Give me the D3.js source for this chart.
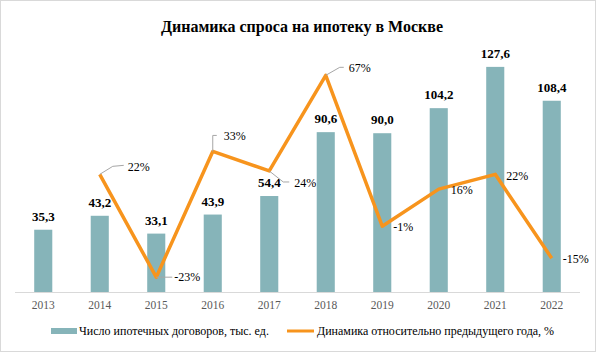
<!DOCTYPE html>
<html>
<head>
<meta charset="utf-8">
<script src="https://cdn.jsdelivr.net/npm/d3@7"></script>
<style>
  body { margin: 0; background: #fff; }
</style>
</head>
<body>
<div id="chart"></div>
<script>
let years = ['2013', '2014', '2015', '2016', '2017', '2018', '2019', '2020', '2021', '2022']
let contracts = [35.3, 43.2, 33.1, 43.9, 54.4, 90.6, 90.0, 104.2, 127.6, 108.4]
let growth = [null, 22.4, -23.4, 32.6, 23.9, 66.5, -0.7, 15.8, 22.4, -15.0]

let barName = 'Число ипотечных договоров, тыс. ед.'
let lineName = 'Динамика относительно предыдущего года, %'
let title = 'Динамика спроса на ипотеку в Москве'

// label offsets for the % labels, [dx, dy] from the point; lead = draw a leader line
let labelPlace = [
  null,
  { dx: 28, dy: -8, lead: [[13, -8], [24, -9]] },
  { dx: 18, dy: 0, lead: [[5, 0], [16, 0]] },
  { dx: 11, dy: -16, lead: [[0, -16], [4, -16]] },
  { dx: 25, dy: 12, lead: [[14, 11], [20, 11]] },
  { dx: 23, dy: -8, lead: [[14, -8], [18, -8]] },
  { dx: 11, dy: 1 },
  { dx: 12, dy: 1 },
  { dx: 11, dy: 1 },
  { dx: 11, dy: 0 }
]

let width = 596
let height = 352
let serif = "'Liberation Serif', 'Times New Roman', Times, serif"

let svg = d3
  .select('#chart')
  .append('svg')
  .attr('width', width)
  .attr('height', height)
  .attr('font-family', serif)

svg
  .append('rect')
  .attr('x', 0.5)
  .attr('y', 0.5)
  .attr('width', width - 1)
  .attr('height', height - 1)
  .attr('fill', '#fff')
  .attr('stroke', '#d9d9d9')

let xPositionScale = d3
  .scaleBand()
  .domain(years)
  .range([15, 580])
  .paddingInner(0.68)
  .paddingOuter(0.34)

let yBarScale = d3.scaleLinear().domain([0, 140]).range([292, 45])
let yLineScale = d3.scaleLinear().domain([-30, 80]).range([292, 45])

let barColor = '#86b4b9'
let lineColor = '#f7941d'

svg
  .append('text')
  .attr('x', 302)
  .attr('y', 32)
  .attr('text-anchor', 'middle')
  .attr('font-size', 16)
  .attr('font-weight', 'bold')
  .attr('fill', '#000')
  .text(title)

svg
  .selectAll('.bar')
  .data(contracts)
  .enter()
  .append('rect')
  .attr('class', 'bar')
  .attr('x', (d, i) => xPositionScale(years[i]))
  .attr('width', xPositionScale.bandwidth())
  .attr('y', d => yBarScale(d))
  .attr('height', d => yBarScale(0) - yBarScale(d))
  .attr('fill', barColor)

svg
  .selectAll('.bar-label')
  .data(contracts)
  .enter()
  .append('text')
  .attr('class', 'bar-label')
  .attr('x', (d, i) => xPositionScale(years[i]) + xPositionScale.bandwidth() / 2)
  .attr('y', d => yBarScale(d) - 9)
  .attr('text-anchor', 'middle')
  .attr('font-size', 13)
  .attr('font-weight', 'bold')
  .attr('fill', '#000')
  .text(d => d.toFixed(1).replace('.', ','))

let xAxis = d3.axisBottom(xPositionScale).tickSize(0).tickPadding(9)
let xg = svg
  .append('g')
  .attr('class', 'axis x-axis')
  .attr('transform', 'translate(0,292)')
  .call(xAxis)
xg.attr('font-family', serif).attr('font-size', 11.5)
xg.select('.domain').attr('stroke', '#d9d9d9').attr('d', 'M15,0.5H580')
xg.selectAll('text').attr('fill', '#595959')

let points = growth
  .map((d, i) => ({ year: years[i], value: d, place: labelPlace[i] }))
  .filter(d => d.value !== null)

let cx = d => xPositionScale(d.year) + xPositionScale.bandwidth() / 2

let line = d3
  .line()
  .x(d => cx(d))
  .y(d => yLineScale(d.value))

svg
  .append('path')
  .datum(points)
  .attr('d', line)
  .attr('fill', 'none')
  .attr('stroke', lineColor)
  .attr('stroke-width', 3.5)
  .attr('stroke-linejoin', 'round')

// leader lines
svg
  .selectAll('.leader')
  .data(points.filter(d => d.place.lead))
  .enter()
  .append('path')
  .attr('class', 'leader')
  .attr('d', d => {
    let x0 = cx(d)
    let y0 = yLineScale(d.value)
    let pts = [[x0, y0]].concat(d.place.lead.map(p => [x0 + p[0], y0 + p[1]]))
    return d3.line()(pts)
  })
  .attr('fill', 'none')
  .attr('stroke', '#a6a6a6')
  .attr('stroke-width', 1)

svg
  .selectAll('.line-label')
  .data(points)
  .enter()
  .append('text')
  .attr('class', 'line-label')
  .attr('x', d => cx(d) + d.place.dx)
  .attr('y', d => yLineScale(d.value) + d.place.dy)
  .attr('dy', '0.35em')
  .attr('font-size', 12)
  .attr('fill', '#000')
  .text(d => Math.round(d.value) + '%')

// legend
let legend = svg.append('g').attr('class', 'legend')
legend
  .append('rect')
  .attr('x', 51)
  .attr('y', 328)
  .attr('width', 26)
  .attr('height', 6)
  .attr('fill', barColor)
legend
  .append('text')
  .attr('x', 79)
  .attr('y', 331)
  .attr('dy', '0.35em')
  .attr('font-size', 12)
  .attr('fill', '#000')
  .text(barName)
legend
  .append('line')
  .attr('x1', 287)
  .attr('x2', 314)
  .attr('y1', 331)
  .attr('y2', 331)
  .attr('stroke', lineColor)
  .attr('stroke-width', 3)
legend
  .append('text')
  .attr('x', 317)
  .attr('y', 331)
  .attr('dy', '0.35em')
  .attr('font-size', 12)
  .attr('fill', '#000')
  .text(lineName)
</script>
</body>
</html>
